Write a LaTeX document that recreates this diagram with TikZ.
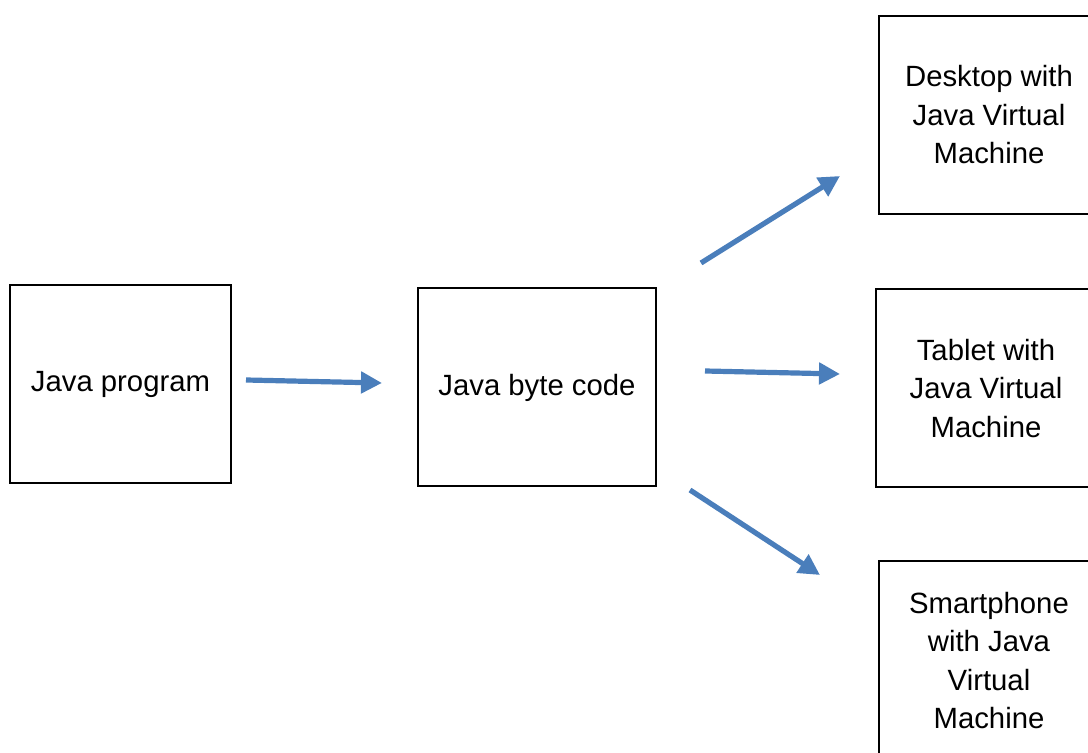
\documentclass[tikz,border=0pt]{standalone}
\usepackage{fontspec}
\setmainfont{Liberation Sans}
\usetikzlibrary{arrows.meta}
\definecolor{arrowblue}{RGB}{74,126,187}
\tikzset{
    box/.style={draw=black, line width=1pt, minimum width=110pt, minimum height=99pt,
        inner sep=0pt, align=center, font=\fontsize{14.65}{19.25}\selectfont},
    flow/.style={arrowblue, line width=2.6pt, -{Triangle[length=10.5pt,width=10.5pt]}}
}
\begin{document}
\begin{tikzpicture}[x=0.5pt,y=-0.5pt]
    \clip (0,0) rectangle (1088,753);

    % Source and compiled program
    \node[box, minimum width=110.5pt] (program) at (120.5,384.5) {Java program};
    \node[box, minimum width=119pt] (bytecode) at (537,387.5) {Java byte code};

    % Target machines (cut off at the right edge)
    \node[box] (desktop) at (989,115) {Desktop with\\Java Virtual\\Machine};
    \node[box] (tablet) at (986,388.5) {Tablet with\\Java Virtual\\Machine};
    \node[box] (phone) at (989,660.5) {Smartphone\\with Java\\Virtual\\Machine};

    % Arrow end points
    \coordinate (p1) at (246,380);  \coordinate (b1) at (382,383);
    \coordinate (b2) at (701,263);  \coordinate (d1) at (840,176);
    \coordinate (b3) at (705,371);  \coordinate (t1) at (840,374);
    \coordinate (b4) at (690,490);  \coordinate (s1) at (820,575);

    \draw[flow] (p1) -- (b1);
    \draw[flow] (b2) -- (d1);
    \draw[flow] (b3) -- (t1);
    \draw[flow] (b4) -- (s1);
\end{tikzpicture}
\end{document}
